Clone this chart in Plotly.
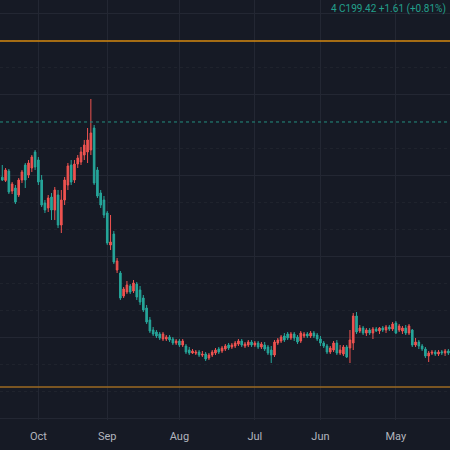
import pandas as pd
import plotly.graph_objects as go

# Trading days (weekdays) Apr 9 2024 -> Oct 16 2024
dates = pd.bdate_range("2024-04-09", "2024-10-16")

open_ = [111.5,112.5,111.5,112,111,112,111.5,110,113.5,115,117,115.5,125,121.5,124,125,121.5,126,123.5,124.5,
         123,124,122.5,123.5,121.5,123,121.5,124,122,130,118,109.5,114.5,113,111.5,116.5,114,112,115,116.5,
         118.5,120,121.5,120,121,121.5,117,119,121,119,118,119.5,118,117,110.5,111.5,113.5,116,114.5,116.5,
         115.5,117,116,115.5,117.5,116.5,115.5,114,115,114,112,113,112,110.5,108.5,111,110.5,112,112.5,111.5,
         112,117.5,115.5,117.5,116.5,118,119.5,121,119,120,121,122.5,127,133,137,139.5,146.5,142,145.5,143.5,
         139,157.5,157,167,166.5,180.5,185.5,190,196.5,221.5,218,215.5,212,209,206,197,205,198,188,175.5,
         193,183,189,183,185.5,197,204.5,209.5,206.5,198,202,198,187,196,192,203,198]
high = [113.5,113.5,113,113,113,113,112.5,114.5,116,118,119,123.5,126,125.5,125,126,127.5,127,125.5,125.5,
        125,124.5,124.5,124.5,124,124,125,125.5,132,131.5,123,115.5,115.5,115.5,118,117.5,115,116,117.5,120,
        121.5,122.5,122.5,122,122,122.5,120.5,122,122,122,121.5,120.5,119,118,115,115.5,117,117,117.5,117.5,
        118,118,117,118.5,118.5,117.5,116.5,116.5,116,115,114.5,114,113,111.5,112,112.5,113,113,113.5,114.5,
        116,118.5,118.5,118.5,119.5,120.5,120.5,122,122,123,124.5,129.5,135.5,140.5,145,147,148,146,147.5,144.5,
        152.5,159,172.5,180.5,182.5,190,193,204.5,225.5,238.5,224,218,214.5,210.5,208,208,206.5,199.5,193,193,
        194.5,191.5,190.5,188,200.5,209.5,213,210.5,208,206.5,203,199,195.5,197,203.5,204,205.5]
low = [110.5,110,110.5,110,110,110.5,107,109,112.5,113.5,114.5,114.5,120.5,120.5,121,122,121,122.5,122.5,121.5,
       122,121,122,118.5,120.5,120,120.5,121.5,121,113,106.5,109,110,110.5,110.5,112,111,111,114,115,
       117.5,119,119,119,119,116.5,116,117.5,118,118,117,116.5,115.5,109.5,106.5,110.5,112.5,113.5,113.5,114.5,
       114.5,114.5,114,114.5,115,114,113.5,113,112.5,111.5,111,110.5,109.5,108,107.5,109.5,109.5,110.5,111,110.5,
       111,114.5,114.5,115.5,115.5,117,117.5,117.5,118,119,120,121.5,126,132,135.5,138,141.5,141,141,139,
       138,151.5,156,163,165.5,179,184,189,195.5,210.5,206.5,208,205.5,204,196.5,195.5,193,185.5,171.5,174,
       178,178,182,181.5,184.5,195.5,203,202,199,194,196.5,189.5,186,191,191,197,197.5]
close = [112.5,111.5,112,111,112,111.5,110,113.5,115,117,115.5,123,121.5,124,122.5,123,126.5,123.5,124.5,123,
         124,122.5,123.5,121.5,123,121.5,124,122.5,130,116.5,114,114.5,111,111.5,116.5,113,112,115,116.5,118.5,
         120.5,121.5,120,121,120,117.5,119.5,121,119,121,120,117.5,116.5,110.5,113,114.5,115.5,114.5,116.5,115.5,
         117,115.5,115,117.5,116,115,114.5,115.5,113.5,112.5,113.5,111.5,110.5,109,111,110.5,112,111.5,111.5,113,
         115,115.5,117.5,116.5,118.5,119.5,118.5,118.5,121,122,123,128,134,139,143,146,142.5,145,142,140,
         151.5,153,171,165.5,181.5,188,191.5,203,224,213,212,210.5,207,206,198,205.5,195.5,188,175.5,190.5,
         183,189.5,184,186.5,198,208,212,204,200.5,205.5,198,190.5,194,192.5,202.5,197.81,199.42]

month_ticks = ["2024-05-01", "2024-06-03", "2024-07-01", "2024-08-01", "2024-09-02", "2024-10-01"]
month_labels = ["May", "Jun", "Jul", "Aug", "Sep", "Oct"]

orange_levels = [267.5, 94.5]   # upper and lower horizontal lines
price_line = [227]              # dotted price line
header_text = "4 C199.42 +1.61 (+0.81%)"

BG = "#161a25"
UP = "#26a69a"
DOWN = "#ef5350"

fig = go.Figure(go.Candlestick(
    x=dates, open=open_, high=high, low=low, close=close,
    increasing=dict(line=dict(color=UP, width=1), fillcolor=UP),
    decreasing=dict(line=dict(color=DOWN, width=1), fillcolor=DOWN),
    whiskerwidth=0, showlegend=False, hoverinfo="skip",
))

fig.add_shape(type="line", xref="paper", x0=0, x1=1, yref="y", y0=orange_levels[0], y1=orange_levels[0],
              line=dict(color="#d4880f", width=1.5))
fig.add_shape(type="line", xref="paper", x0=0, x1=1, yref="y", y0=orange_levels[1], y1=orange_levels[1],
              line=dict(color="#9c6a22", width=1.5))
fig.add_shape(type="line", xref="paper", x0=0, x1=1, yref="y", y0=price_line[0], y1=price_line[0],
              line=dict(color="#1f8a7c", width=1, dash="dot"))

fig.add_annotation(text=header_text, xref="paper", yref="paper", x=0.995, y=0.998,
                   xanchor="right", yanchor="top", showarrow=False,
                   font=dict(color="#23a08c", size=10, family="Roboto"))

fig.update_layout(
    width=450, height=450,
    margin=dict(l=0, r=0, t=0, b=30),
    paper_bgcolor=BG, plot_bgcolor=BG,
    font=dict(family="Roboto", color="#b2b5be", size=11),
    xaxis=dict(
        type="date",
        rangebreaks=[dict(bounds=["sat", "mon"])],
        range=["2024-10-16 16:48", "2024-04-08 12:00"],
        tickvals=month_ticks, ticktext=month_labels,
        showgrid=True, gridcolor="#232733", gridwidth=1,
        zeroline=False, showline=False, ticks="",
        ticklabelstandoff=8,
        rangeslider=dict(visible=False),
        tickfont=dict(color="#b2b5be", size=11),
    ),
    yaxis=dict(
        range=[78, 288],
        showticklabels=False, zeroline=False, showline=False, ticks="",
        tick0=79, dtick=40.5, showgrid=True, gridcolor="#232733", gridwidth=1,
        minor=dict(tick0=79, dtick=13.5, showgrid=True, gridcolor="#1f232d", griddash="dot"),
    ),
)

fig.write_html(
    "out.html",
    config={"displayModeBar": False},
    post_script="document.body.style.margin='0';document.body.style.overflow='hidden';",
)
